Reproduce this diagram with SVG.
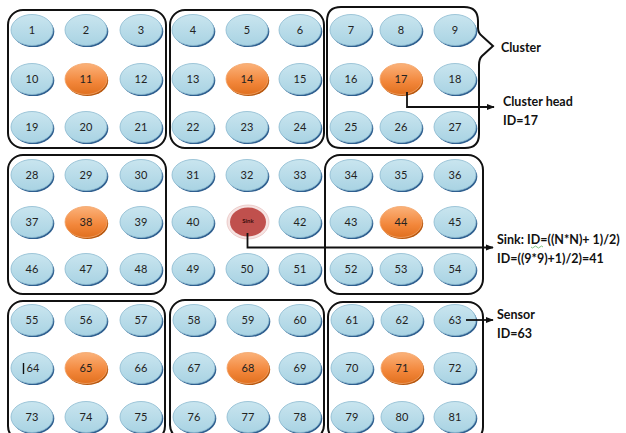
<svg xmlns="http://www.w3.org/2000/svg" width="626" height="433" viewBox="0 0 626 433">
<defs>
<linearGradient id="gb" x1="0" y1="0" x2="0" y2="1">
<stop offset="0" stop-color="#c9e5ef"/><stop offset="1" stop-color="#a9d3e3"/>
</linearGradient>
<linearGradient id="go" x1="0" y1="0" x2="0" y2="1">
<stop offset="0" stop-color="#fbb27a"/><stop offset="0.6" stop-color="#f2863a"/><stop offset="1" stop-color="#e0701f"/>
</linearGradient>
<marker id="ar" viewBox="0 0 10 10" refX="9" refY="5" markerWidth="8" markerHeight="8" markerUnits="userSpaceOnUse" orient="auto">
<path d="M0,1 L10,5 L0,9 Z" fill="#111"/>
</marker>
<g id="nb">
<ellipse cx="1.3" cy="1.6" rx="21" ry="15.5" fill="#2f5f8f"/>
<ellipse cx="0" cy="0" rx="21" ry="15.5" fill="url(#gb)" stroke="#8bbad0" stroke-width="0.8"/>
</g>
<g id="no">
<ellipse cx="1.2" cy="1.5" rx="21" ry="15.5" fill="#b8580f"/>
<ellipse cx="0" cy="0" rx="21" ry="15.5" fill="url(#go)" stroke="#f3a56a" stroke-width="0.8"/>
</g>
</defs>
<style>
.box{fill:none;stroke:#111;stroke-width:2}
.n{font-family:Lato,"Open Sans","Liberation Sans",sans-serif;font-size:11px;fill:#222;text-anchor:middle}
.lb{font-family:Lato,"Open Sans","Liberation Sans",sans-serif;font-size:12.5px;font-weight:bold;fill:#111}
.cn{fill:none;stroke:#111;stroke-width:1.8}
</style>
<rect width="626" height="433" fill="#fff"/>
<g id="clusters">
<rect id="c1" class="box" x="8" y="10" width="158" height="138" rx="15"/>
<rect id="c2" class="box" x="170" y="10" width="154" height="138" rx="15"/>
<path id="c3" class="box" d="M341 7 H464 Q478 7 478 21 V28 Q478 33 482 36 L493 46 L482 56 Q479 59 479 65 V134 Q479 148 465 148 H341 Q327 148 327 134 V21 Q327 7 341 7 Z"/>
<rect id="c4" class="box" x="8" y="155" width="158" height="139" rx="15"/>
<rect id="c6" class="box" x="325" y="155" width="158" height="139" rx="15"/>
<rect id="c7" class="box" x="8" y="301" width="157" height="140" rx="15"/>
<rect id="c8" class="box" x="170" y="300" width="154" height="140" rx="15"/>
<rect id="c9" class="box" x="328" y="302" width="155" height="140" rx="15"/>
</g>
<g id="nodes">
<g id="n1"><use href="#nb" x="32" y="30"/><text class="n" x="32" y="34">1</text></g>
<g id="n2"><use href="#nb" x="86" y="30"/><text class="n" x="86" y="34">2</text></g>
<g id="n3"><use href="#nb" x="141" y="30"/><text class="n" x="141" y="34">3</text></g>
<g id="n4"><use href="#nb" x="193" y="30"/><text class="n" x="193" y="34">4</text></g>
<g id="n5"><use href="#nb" x="247" y="30"/><text class="n" x="247" y="34">5</text></g>
<g id="n6"><use href="#nb" x="300" y="30"/><text class="n" x="300" y="34">6</text></g>
<g id="n7"><use href="#nb" x="351" y="30"/><text class="n" x="351" y="34">7</text></g>
<g id="n8"><use href="#nb" x="401" y="30"/><text class="n" x="401" y="34">8</text></g>
<g id="n9"><use href="#nb" x="455" y="30"/><text class="n" x="455" y="34">9</text></g>
<g id="n10"><use href="#nb" x="32" y="79"/><text class="n" x="32" y="83">10</text></g>
<g id="n11"><use href="#no" x="86" y="79"/><text class="n" x="86" y="83">11</text></g>
<g id="n12"><use href="#nb" x="141" y="79"/><text class="n" x="141" y="83">12</text></g>
<g id="n13"><use href="#nb" x="193" y="79"/><text class="n" x="193" y="83">13</text></g>
<g id="n14"><use href="#no" x="247" y="79"/><text class="n" x="247" y="83">14</text></g>
<g id="n15"><use href="#nb" x="300" y="79"/><text class="n" x="300" y="83">15</text></g>
<g id="n16"><use href="#nb" x="351" y="79"/><text class="n" x="351" y="83">16</text></g>
<g id="n17"><use href="#no" x="401" y="79"/><text class="n" x="401" y="83">17</text></g>
<g id="n18"><use href="#nb" x="455" y="79"/><text class="n" x="455" y="83">18</text></g>
<g id="n19"><use href="#nb" x="32" y="127"/><text class="n" x="32" y="131">19</text></g>
<g id="n20"><use href="#nb" x="86" y="127"/><text class="n" x="86" y="131">20</text></g>
<g id="n21"><use href="#nb" x="141" y="127"/><text class="n" x="141" y="131">21</text></g>
<g id="n22"><use href="#nb" x="193" y="127"/><text class="n" x="193" y="131">22</text></g>
<g id="n23"><use href="#nb" x="247" y="127"/><text class="n" x="247" y="131">23</text></g>
<g id="n24"><use href="#nb" x="300" y="127"/><text class="n" x="300" y="131">24</text></g>
<g id="n25"><use href="#nb" x="351" y="127"/><text class="n" x="351" y="131">25</text></g>
<g id="n26"><use href="#nb" x="401" y="127"/><text class="n" x="401" y="131">26</text></g>
<g id="n27"><use href="#nb" x="455" y="127"/><text class="n" x="455" y="131">27</text></g>
<g id="n28"><use href="#nb" x="32" y="175"/><text class="n" x="32" y="179">28</text></g>
<g id="n29"><use href="#nb" x="86" y="175"/><text class="n" x="86" y="179">29</text></g>
<g id="n30"><use href="#nb" x="141" y="175"/><text class="n" x="141" y="179">30</text></g>
<g id="n31"><use href="#nb" x="193" y="175"/><text class="n" x="193" y="179">31</text></g>
<g id="n32"><use href="#nb" x="247" y="175"/><text class="n" x="247" y="179">32</text></g>
<g id="n33"><use href="#nb" x="300" y="175"/><text class="n" x="300" y="179">33</text></g>
<g id="n34"><use href="#nb" x="351" y="175"/><text class="n" x="351" y="179">34</text></g>
<g id="n35"><use href="#nb" x="401" y="175"/><text class="n" x="401" y="179">35</text></g>
<g id="n36"><use href="#nb" x="455" y="175"/><text class="n" x="455" y="179">36</text></g>
<g id="n37"><use href="#nb" x="32" y="222"/><text class="n" x="32" y="226">37</text></g>
<g id="n38"><use href="#no" x="86" y="222"/><text class="n" x="86" y="226">38</text></g>
<g id="n39"><use href="#nb" x="141" y="222"/><text class="n" x="141" y="226">39</text></g>
<g id="n40"><use href="#nb" x="193" y="222"/><text class="n" x="193" y="226">40</text></g>
<g id="sink">
<ellipse cx="248" cy="222" rx="21" ry="17" fill="#f6e3e2" stroke="#e8c4c2" stroke-width="0.8"/>
<ellipse cx="248" cy="222" rx="18" ry="14.5" fill="#c0504d"/>
<text x="248" y="223" text-anchor="middle" font-family="Lato,'Liberation Sans',sans-serif" font-size="6" font-weight="bold" fill="#3a0d0c">Sink</text>
</g>
<g id="n42"><use href="#nb" x="300" y="222"/><text class="n" x="300" y="226">42</text></g>
<g id="n43"><use href="#nb" x="351" y="222"/><text class="n" x="351" y="226">43</text></g>
<g id="n44"><use href="#no" x="401" y="222"/><text class="n" x="401" y="226">44</text></g>
<g id="n45"><use href="#nb" x="455" y="222"/><text class="n" x="455" y="226">45</text></g>
<g id="n46"><use href="#nb" x="32" y="269"/><text class="n" x="32" y="273">46</text></g>
<g id="n47"><use href="#nb" x="86" y="269"/><text class="n" x="86" y="273">47</text></g>
<g id="n48"><use href="#nb" x="141" y="269"/><text class="n" x="141" y="273">48</text></g>
<g id="n49"><use href="#nb" x="193" y="269"/><text class="n" x="193" y="273">49</text></g>
<g id="n50"><use href="#nb" x="247" y="269"/><text class="n" x="247" y="273">50</text></g>
<g id="n51"><use href="#nb" x="300" y="269"/><text class="n" x="300" y="273">51</text></g>
<g id="n52"><use href="#nb" x="351" y="269"/><text class="n" x="351" y="273">52</text></g>
<g id="n53"><use href="#nb" x="401" y="269"/><text class="n" x="401" y="273">53</text></g>
<g id="n54"><use href="#nb" x="455" y="269"/><text class="n" x="455" y="273">54</text></g>
<g id="n55"><use href="#nb" x="32" y="320"/><text class="n" x="32" y="324">55</text></g>
<g id="n56"><use href="#nb" x="86" y="320"/><text class="n" x="86" y="324">56</text></g>
<g id="n57"><use href="#nb" x="141" y="320"/><text class="n" x="141" y="324">57</text></g>
<g id="n58"><use href="#nb" x="194" y="320"/><text class="n" x="194" y="324">58</text></g>
<g id="n59"><use href="#nb" x="248" y="320"/><text class="n" x="248" y="324">59</text></g>
<g id="n60"><use href="#nb" x="300" y="320"/><text class="n" x="300" y="324">60</text></g>
<g id="n61"><use href="#nb" x="352" y="320"/><text class="n" x="352" y="324">61</text></g>
<g id="n62"><use href="#nb" x="402" y="320"/><text class="n" x="402" y="324">62</text></g>
<g id="n63"><use href="#nb" x="455" y="320"/><text class="n" x="455" y="324">63</text></g>
<g id="n64"><use href="#nb" x="32" y="368"/><text class="n" x="33" y="372">64</text><line x1="23.5" y1="363" x2="23.5" y2="374" stroke="#111" stroke-width="1.4"/></g>
<g id="n65"><use href="#no" x="86" y="368"/><text class="n" x="86" y="372">65</text></g>
<g id="n66"><use href="#nb" x="141" y="368"/><text class="n" x="141" y="372">66</text></g>
<g id="n67"><use href="#nb" x="194" y="368"/><text class="n" x="194" y="372">67</text></g>
<g id="n68"><use href="#no" x="248" y="368"/><text class="n" x="248" y="372">68</text></g>
<g id="n69"><use href="#nb" x="300" y="368"/><text class="n" x="300" y="372">69</text></g>
<g id="n70"><use href="#nb" x="352" y="368"/><text class="n" x="352" y="372">70</text></g>
<g id="n71"><use href="#no" x="402" y="368"/><text class="n" x="402" y="372">71</text></g>
<g id="n72"><use href="#nb" x="455" y="368"/><text class="n" x="455" y="372">72</text></g>
<g id="n73"><use href="#nb" x="32" y="417"/><text class="n" x="32" y="421">73</text></g>
<g id="n74"><use href="#nb" x="86" y="417"/><text class="n" x="86" y="421">74</text></g>
<g id="n75"><use href="#nb" x="141" y="417"/><text class="n" x="141" y="421">75</text></g>
<g id="n76"><use href="#nb" x="194" y="417"/><text class="n" x="194" y="421">76</text></g>
<g id="n77"><use href="#nb" x="248" y="417"/><text class="n" x="248" y="421">77</text></g>
<g id="n78"><use href="#nb" x="300" y="417"/><text class="n" x="300" y="421">78</text></g>
<g id="n79"><use href="#nb" x="352" y="417"/><text class="n" x="352" y="421">79</text></g>
<g id="n80"><use href="#nb" x="402" y="417"/><text class="n" x="402" y="421">80</text></g>
<g id="n81"><use href="#nb" x="455" y="417"/><text class="n" x="455" y="421">81</text></g>
</g>
<g id="connectors">
<polyline class="cn" points="407,92 407,107 494,107" marker-end="url(#ar)"/>
<polyline class="cn" points="247.5,233 247.5,247.5 493,247.5" marker-end="url(#ar)"/>
<line class="cn" x1="466" y1="320" x2="493" y2="320" marker-end="url(#ar)"/>
</g>
<g id="labels">
<text class="lb" x="501" y="52">Cluster</text>
<text class="lb" x="503" y="106">Cluster head</text>
<text class="lb" x="503" y="125">ID=17</text>
<text class="lb" x="497" y="244">Sink: ID=((N*N)+ 1)/2)</text>
<path d="M531 247 q1.5 2 3 0 t3 0 t3 0 t3 0" fill="none" stroke="#4caf50" stroke-width="0.7"/>
<text class="lb" x="497" y="263">ID=((9*9)+1)/2)=41</text>
<text class="lb" x="497" y="319">Sensor</text>
<text class="lb" x="497" y="338">ID=63</text>
</g>
</svg>
